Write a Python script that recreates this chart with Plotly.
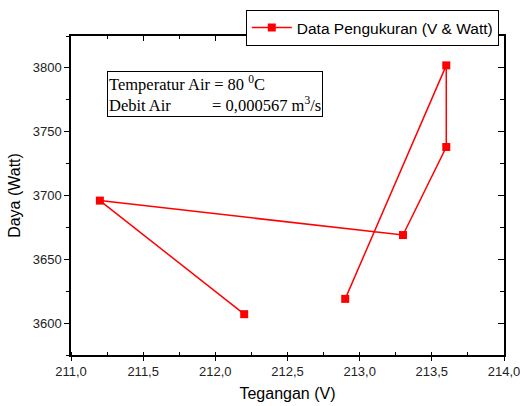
import plotly.graph_objects as go

# Data
tegangan = [212.2, 211.2, 213.3, 213.6, 213.6, 212.9]
daya = [3607, 3696, 3669, 3738, 3802, 3619]
series_name = "Data Pengukuran (V & Watt)"
x_ticks = [211.0, 211.5, 212.0, 212.5, 213.0, 213.5, 214.0]
y_ticks = [3600, 3650, 3700, 3750, 3800]

RED = "#ff0000"
fig = go.Figure()
fig.add_trace(go.Scatter(
    x=tegangan, y=daya, mode="lines+markers", name=series_name,
    line=dict(color=RED, width=1.5),
    marker=dict(symbol="square", size=8, color=RED),
))
# invisible companion trace for top/right mirrored axes
fig.add_trace(go.Scatter(
    x=tegangan, y=daya, xaxis="x2", yaxis="y2", mode="markers",
    marker=dict(opacity=0), showlegend=False, hoverinfo="skip",
))

axis_font = dict(family="Arial, Liberation Sans, sans-serif", size=13, color="#222")
title_font = dict(family="Arial, Liberation Sans, sans-serif", size=16, color="#000")

fig.update_layout(
    width=520, height=406,
    margin=dict(l=71, r=16, t=36, b=51, autoexpand=False),
    paper_bgcolor="white", plot_bgcolor="white",
    separators=",.",
    showlegend=True,
    legend=dict(
        x=0.988, xanchor="right", y=1.0815, yanchor="top",
        bordercolor="#000", borderwidth=1, bgcolor="white",
        font=dict(family="Arial, Liberation Sans, sans-serif", size=15.5, color="#000"),
        tracegroupgap=0, itemwidth=40,
    ),
    xaxis=dict(
        range=[211.0, 214.0], tickvals=x_ticks, tickformat=".1f",
        showgrid=False, zeroline=False, automargin=False,
        ticklabeloverflow="allow",
        showline=True, linecolor="#000", linewidth=1.5,
        ticks="outside", ticklen=4, tickwidth=1, tickcolor="#000",
        minor=dict(dtick=0.25, ticks="inside", ticklen=3, tickwidth=1, tickcolor="#000", showgrid=False),
        tickfont=axis_font,
        title=dict(text="Tegangan (V)", font=title_font, standoff=9),
    ),
    yaxis=dict(
        range=[3575, 3825], tickvals=y_ticks, tickformat="d",
        showgrid=False, zeroline=False, automargin=False,
        showline=True, linecolor="#000", linewidth=1.5,
        ticks="outside", ticklen=5, tickwidth=1, tickcolor="#000",
        minor=dict(dtick=25, tick0=3575, ticks="outside", ticklen=3, tickwidth=1, tickcolor="#000", showgrid=False),
        tickfont=axis_font,
        title=dict(text="Daya (Watt)", font=title_font, standoff=8),
    ),
    xaxis2=dict(
        overlaying="x", side="top", matches="x", range=[211.0, 214.0],
        tickvals=x_ticks, showticklabels=False, showgrid=False, zeroline=False, automargin=False,
        showline=True, linecolor="#000", linewidth=1.5,
        ticks="inside", ticklen=5, tickwidth=1, tickcolor="#000",
        minor=dict(dtick=0.25, ticks="inside", ticklen=3, tickwidth=1, tickcolor="#000", showgrid=False),
    ),
    yaxis2=dict(
        overlaying="y", side="right", matches="y", range=[3575, 3825],
        tickvals=y_ticks, showticklabels=False, showgrid=False, zeroline=False, automargin=False,
        showline=True, linecolor="#000", linewidth=1.5,
        ticks="inside", ticklen=6, tickwidth=1, tickcolor="#000",
        minor=dict(dtick=25, tick0=3575, ticks="inside", ticklen=4, tickwidth=1, tickcolor="#000", showgrid=False),
    ),
)

nb = "\u00a0"
fig.add_annotation(
    xref="paper", yref="paper", x=0.083, y=0.89, xanchor="left", yanchor="top",
    text=("Temperatur Air = 80 <sup>0</sup>C<br>"
          "Debit Air" + nb * 10 + "= 0,000567 m<sup>3</sup>/s"),
    showarrow=False, align="left",
    font=dict(family="Liberation Serif, Times New Roman, serif", size=16.5, color="#000"),
    bordercolor="#000", borderwidth=1, borderpad=1, bgcolor="white",
)

fig.write_html(
    "out.html",
    config={"displayModeBar": False},
    post_script="document.body.style.margin='0';document.body.style.overflow='hidden';",
)
